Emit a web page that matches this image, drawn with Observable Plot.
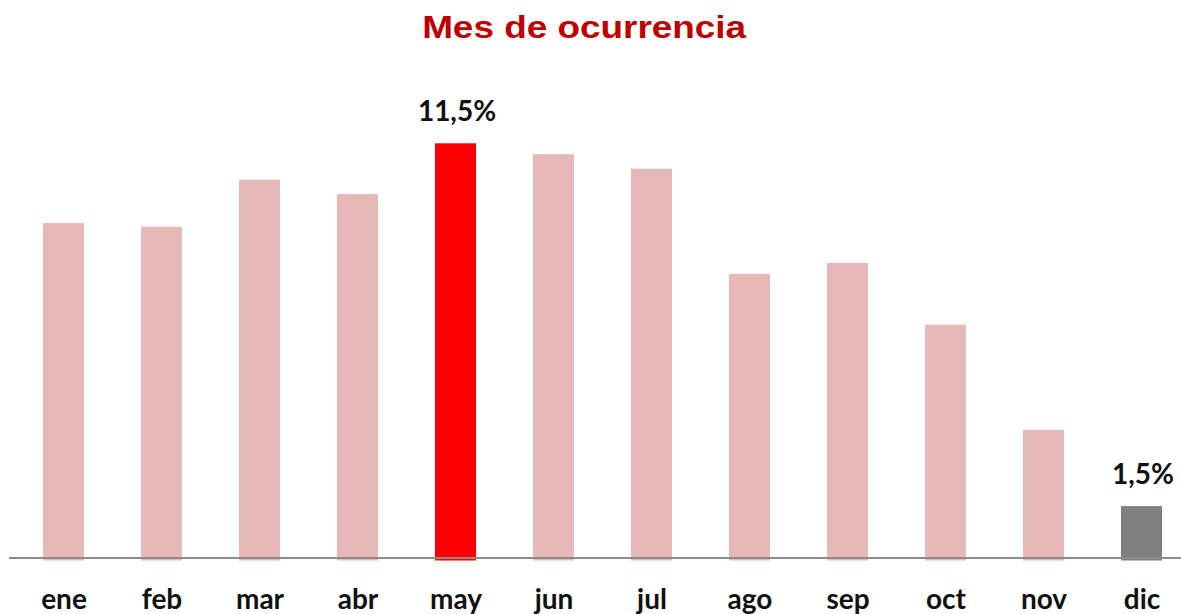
<!DOCTYPE html>
<html>
<head>
<meta charset="utf-8">
<script src="https://cdn.jsdelivr.net/npm/d3@7"></script>
<script src="https://cdn.jsdelivr.net/npm/@observablehq/plot@0.6"></script>
<style>
  html, body { margin: 0; padding: 0; background: #fff; }
  #wrap { width: 1181px; height: 614px; overflow: hidden; }
  #title { height: 48.5px; padding-top: 11.5px; line-height: 31px; text-align: center; position: relative; left: -6px; }
  #title span { display: inline-block; transform: scaleX(1.19); transform-origin: 50% 50%;
    font-family: "Liberation Sans", Arial, sans-serif; font-weight: bold; font-size: 31px; color: #C00000; }
  svg { display: block; }
</style>
</head>
<body>
<div id="wrap">
  <div id="title"><span>Mes de ocurrencia</span></div>
  <div id="chart"></div>
</div>
<script>
const months = ["ene", "feb", "mar", "abr", "may", "jun", "jul", "ago", "sep", "oct", "nov", "dic"];
const values = [9.3, 9.2, 10.5, 10.1, 11.5, 11.2, 10.8, 7.9, 8.2, 6.5, 3.6, 1.5];
const highlight = ["", "", "", "", "max", "", "", "", "", "", "", "min"];
const labels = ["", "", "", "", "11,5%", "", "", "", "", "", "", "1,5%"];

const data = months.map((m, i) => ({month: m, value: values[i], kind: highlight[i] || "normal", label: labels[i]}));

const W = 1181, H = 554;
const chart = Plot.plot({
  width: W,
  height: H,
  marginLeft: 9,
  marginRight: 0,
  marginTop: 0,
  marginBottom: 53.5,
  style: {background: "#fff"},
  x: {domain: months, range: [11.65, 1193.05], paddingInner: 0.5835, paddingOuter: 0.29175, label: null},
  y: {domain: [0, 11.5], range: [500.5, 83.3], axis: null},
  color: {domain: ["normal", "max", "min"], range: ["#E6B8B7", "#FF0000", "#808080"]},
  marks: [
    Plot.barY(data, {x: "month", y: "value", fill: "kind"}),
    Plot.ruleY([0], {stroke: "#8c8c8c", strokeWidth: 2, dy: -3}),
    Plot.text(data.filter(d => d.label), {x: "month", y: "value", text: "label", lineAnchor: "bottom", dy: -23, dx: 1,
      fontFamily: "Lato, 'Open Sans', sans-serif", fontWeight: "bold", fontSize: 28, fill: "#111"}),
    Plot.axisX({tickSize: 0, tickPadding: 28, fontSize: 28, fontWeight: "bold", fontFamily: "Lato, 'Open Sans', sans-serif", color: "#111", label: null})
  ]
});
document.getElementById("chart").appendChild(chart);
</script>
</body>
</html>
